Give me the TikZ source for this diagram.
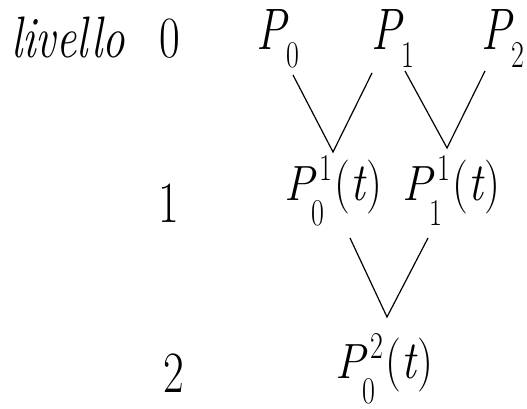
\documentclass[tikz,border=0pt]{standalone}
\usepackage{fix-cm}
\newcommand{\vs}[2][1.3]{\scalebox{1}[#1]{#2}}
\newcommand{\idx}[1]{{\fontsize{28}{30}\selectfont\vs[1.35]{#1}}}
\newcommand{\Pz}[1]{\vs{\textit{P}}\kern-2pt\raisebox{-18pt}{\idx{#1}}}
\newcommand{\Pt}[2]{\vs[1.1]{\textit{P}}\kern-5pt\rlap{\kern8pt\raisebox{20pt}{\idx{#2}}}\raisebox{-25pt}{\idx{#1}}\kern10pt\vs[1.2]{(\textit{t})}}
\begin{document}
\begin{tikzpicture}[x=1pt,y=-1pt,
  lab/.style={inner sep=0pt,anchor=base,font=\fontsize{45}{50}\selectfont},
  pt/.style={inner sep=0pt,anchor=base west,font=\fontsize{45}{50}\selectfont},
  edge/.style={line width=1.2pt}]
\useasboundingbox (0,0) rectangle (527,409);
\node[lab] (liv) at (68,58) {\vs{\textit{livello}}};
\node[lab] (l0) at (170,58) {\vs{0}};
\node[lab] (l1) at (169,222) {\vs{1}};
\node[lab] (l2) at (174,392) {\vs{2}};
\node[pt] (P0) at (256,50) {\Pz{0}};
\node[pt] (P1) at (371,50) {\Pz{1}};
\node[pt] (P2) at (481,50) {\Pz{2}};
\node[pt] (P01) at (284,200) {\Pt{0}{1}};
\node[pt] (P11) at (402,200) {\Pt{1}{1}};
\node[pt] (P02) at (335,378) {\Pt{0}{2}};
\coordinate (a0) at (293,75);
\coordinate (a1) at (372,73);
\coordinate (b1) at (405,71);
\coordinate (b2) at (485,71);
\coordinate (v1) at (333,152);
\coordinate (v2) at (447,148);
\coordinate (c0) at (350,238);
\coordinate (c1) at (428,238);
\coordinate (v3) at (387,317);
\draw[edge] (a0) -- (v1) -- (a1);
\draw[edge] (b1) -- (v2) -- (b2);
\draw[edge] (c0) -- (v3) -- (c1);
\end{tikzpicture}
\end{document}
